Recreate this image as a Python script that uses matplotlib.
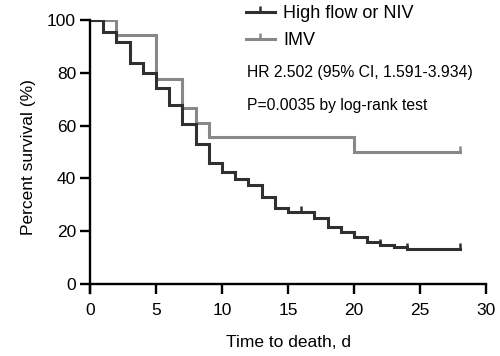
import matplotlib
matplotlib.use("Agg")
import matplotlib.pyplot as plt
from matplotlib.lines import Line2D
import numpy as np

plt.rcParams['font.family'] = ['Liberation Sans', 'DejaVu Sans']

# Kaplan-Meier data
hf_times = [0, 1, 2, 3, 4, 5, 6, 7, 8, 9, 10, 11, 12, 13, 14, 15, 17, 18, 19, 20, 21, 22, 23, 24, 28]
hf_surv = [100, 95.6, 91.5, 83.6, 79.8, 74.1, 67.8, 60.5, 52.9, 45.7, 42.5, 39.6, 37.6, 32.8,
           28.6, 27.2, 24.9, 21.7, 19.6, 17.8, 16.0, 14.8, 13.9, 13.1, 13.1]
hf_censor_t = [16, 22, 24, 28]

imv_times = [0, 2, 5, 7, 8, 9, 20, 28]
imv_surv = [100, 94.4, 77.8, 66.7, 61.1, 55.6, 50.0, 50.0]
imv_censor_t = [28]

labels = ["High flow or NIV", "IMV"]
x_ticks = [0, 5, 10, 15, 20, 25, 30]
y_ticks = [0, 20, 40, 60, 80, 100]
hr_text = "HR 2.502 (95% CI, 1.591-3.934)"
p_text = "P=0.0035 by log-rank test"

dark = "#303030"
gray = "#888888"

W, H = 500, 356
fig = plt.figure(figsize=(W / 100, H / 100), dpi=100)
left, right = 90 / W, 486 / W
bottom_px, top_px = 293.2, 20
ax = fig.add_axes([left, 1 - bottom_px / H, right - left, (bottom_px - top_px) / H])


def km_value(times, surv, t):
    idx = np.searchsorted(times, t, side='right') - 1
    return surv[idx]


lw = 2.2
ax.plot(imv_times, imv_surv, drawstyle='steps-post', color=gray, lw=lw, solid_joinstyle='miter')
ax.plot(hf_times, hf_surv, drawstyle='steps-post', color=dark, lw=lw, solid_joinstyle='miter')

for times, surv, cts, col in [(hf_times, hf_surv, hf_censor_t, dark), (imv_times, imv_surv, imv_censor_t, gray)]:
    cy = [km_value(times, surv, t) for t in cts]
    ax.plot(cts, cy, linestyle='none', marker=2, markersize=4, markeredgewidth=1.8, color=col)

ax.set_xlim(0, 30)
ax.set_ylim(-3.5, 100)
ax.spines['top'].set_visible(False)
ax.spines['right'].set_visible(False)
ax.spines['bottom'].set_position(('data', 0))
ax.spines['left'].set_bounds(-3.5, 100)
for s in ['left', 'bottom']:
    ax.spines[s].set_linewidth(1.7)
ax.set_xticks(x_ticks)
ax.set_yticks(y_ticks)
ax.tick_params(axis='both', direction='out', length=7, width=1.7, labelsize=12.5)
ax.tick_params(axis='x', pad=7)
ax.tick_params(axis='y', pad=3)
ax.set_xlabel("Time to death, d", fontsize=12.5, labelpad=12)
ax.set_ylabel("Percent survival (%)", fontsize=12.5, labelpad=8)

handles = [Line2D([0], [0], color=dark, lw=lw, marker=2, markersize=4, markeredgewidth=1.8),
           Line2D([0], [0], color=gray, lw=lw, marker=2, markersize=4, markeredgewidth=1.8)]
fig.legend(handles, labels, loc='upper left', bbox_to_anchor=(246 / W, 1 - 5 / H),
           frameon=False, fontsize=13, borderpad=0, borderaxespad=0,
           handlelength=1.6, handletextpad=0.45, labelspacing=0.55, markerfirst=True)

fig.text(247 / W, 1 - 77 / H, hr_text, fontsize=11.3, va='baseline', ha='left')
fig.text(247 / W, 1 - 110 / H, p_text, fontsize=11.3, va='baseline', ha='left')

fig.savefig("out.png", dpi=100)
